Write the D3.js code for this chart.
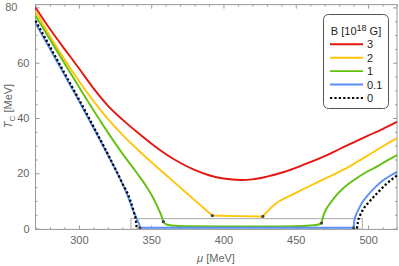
<!DOCTYPE html>
<html>
<head>
<meta charset="utf-8">
<title>Tc vs mu</title>
<script src="https://d3js.org/d3.v7.min.js"></script>
<style>
  body { margin: 0; background: #fff; }
  svg text { font-family: "Liberation Sans", Arial, sans-serif; }
  .tick text { fill: #666; font-size: 11px; }
  .tick line { stroke: #999; }
  .domain { stroke: none; }
</style>
</head>
<body>
<div id="chart"></div>
<script>
// curves, [mu, Tc] in MeV
var b3 = [[270,80],[280,72.2],[290,65],[300,58],[310,50.8],[320,44.5],[330,39.5],[340,35],[350,30.8],[360,27],[370,23.8],[380,21.2],[390,19.3],[400,18.1],[412,17.6],[420,17.8],[430,18.8],[440,20.2],[450,22],[460,24],[470,26.2],[480,28.7],[490,31.2],[500,33.6],[510,36],[520,38.6]];

var b2Left  = [[270,78.6],[280,69.6],[290,61.2],[300,53.4],[310,46.2],[320,39.7],[330,34],[340,28.9],[350,24.1],[360,19.5],[370,14.9],[380,10.3],[392.3,4.7]];
var b2Mid   = [[392.3,4.7],[410,4.5],[427.2,4.4]];
var b2Right = [[427.2,4.4],[430,6],[434,8.1],[438,9.7],[450,12.9],[460,15.5],[470,18],[483,21.3],[492,24],[501.5,27],[510,29.7],[520,32.7]];

var b1Left  = [[270,77],[280,68.4],[290,59.8],[300,51.3],[310,42.9],[320,34.8],[330,27.2],[340,20.2],[346,15.8],[350,12.4],[353,9.4],[355.5,6.6],[357.2,4.5],[358.4,2.5]];
var b1Mid   = [[358.4,2.5],[360,1.6],[364,1.1],[375,0.85],[400,0.75],[430,0.75],[450,0.85],[460,1.1],[465,1.4],[467.8,2.0]];
var b1Right = [[467.8,2.0],[469,4.5],[471,7],[474,9.3],[478,12],[483,14.7],[490,17.5],[498,20.2],[506,22.4],[513,24.6],[520,26.6]];

var b01Left  = [[270,74.3],[280,65],[290,55.6],[300,46.2],[310,36.5],[320,26.6],[330,16.3],[334,11.5],[337,7.2],[339.5,4.2],[341.2,2.2],[342,1],[342.2,0.3]];
var b01Mid   = [[342.2,0.3],[490,0.3]];
var b01Right = [[490,0.3],[490.5,3],[491.5,4.8],[493,6.5],[496,9.5],[500,12.2],[505,15],[510,17.3],[515,19],[520,20.6]];

var b0Left  = [[270,75.2],[280,65.8],[290,56.3],[300,46.8],[310,37],[320,27],[330,16.5],[335,11],[338,6],[339.5,2.5],[340,0]];
var b0Right = [[492.3,0],[493,2.5],[494.5,4.8],[497,7.3],[500,9.2],[507,13.2],[513,16.3],[520,19.2]];

// transition points marked with dots
var dots = [[342.2,0.3],[490,0.3],[358.4,2.5],[467.8,2.0],[392.3,4.7],[427.2,4.4]];

// zoom-in box at the bottom
var boxMu = [336, 496], boxT = [-0.2, 3.6];

var legendLabels = ["3", "2", "1", "0.1", "0"];
var legendColors = ["#e3170f", "#ffc50d", "#62c10f", "#5b8ff7", "#000"];

var xTicks = [300, 350, 400, 450, 500];
var yTicks = [0, 20, 40, 60, 80];
var xMinor = d3.range(270, 521, 10).filter(v => xTicks.indexOf(v) < 0);
var yMinor = d3.range(0, 81, 5).filter(v => yTicks.indexOf(v) < 0);

var W = 399, H = 266;
var svg = d3.select("#chart").append("svg").attr("width", W).attr("height", H);

var x = d3.scaleLinear().domain([270, 520]).range([35.5, 397]);
var y = d3.scaleLinear().domain([0, 80]).range([228.6, 7.4]);

var fx0 = x(270), fx1 = x(520), fy0 = y(81), fy1 = y(-0.3);

// axes, ticks pointing inward
function ax(g, a) { g.call(a); g.selectAll(".domain").remove(); }
svg.append("g").attr("transform", "translate(0," + fy1 + ")")
  .call(g => ax(g, d3.axisBottom(x).tickValues(xTicks).tickSizeInner(-4).tickSizeOuter(0).tickPadding(7)));
svg.append("g").attr("transform", "translate(0," + fy1 + ")")
  .call(g => ax(g, d3.axisBottom(x).tickValues(xMinor).tickFormat("").tickSizeInner(-2).tickSizeOuter(0)));
var yAx = svg.append("g").attr("transform", "translate(" + fx0 + ",0)");
yAx.call(g => ax(g, d3.axisLeft(y).tickValues(yTicks).tickSizeInner(-4).tickSizeOuter(0).tickPadding(6)));
// the top label sits further left in the original
yAx.selectAll(".tick text").filter(d => d == 80).attr("dx", -12);
svg.append("g").attr("transform", "translate(" + fx0 + ",0)")
  .call(g => ax(g, d3.axisLeft(y).tickValues(yMinor).tickFormat("").tickSizeInner(-2).tickSizeOuter(0)));
// top and right, no labels
svg.append("g").attr("transform", "translate(0," + fy0 + ")")
  .call(g => ax(g, d3.axisTop(x).tickValues(xTicks).tickFormat("").tickSizeInner(-4).tickSizeOuter(0)));
svg.append("g").attr("transform", "translate(0," + fy0 + ")")
  .call(g => ax(g, d3.axisTop(x).tickValues(xMinor).tickFormat("").tickSizeInner(-2).tickSizeOuter(0)));
svg.append("g").attr("transform", "translate(" + fx1 + ",0)")
  .call(g => ax(g, d3.axisRight(y).tickValues(yTicks).tickFormat("").tickSizeInner(-4).tickSizeOuter(0)));
svg.append("g").attr("transform", "translate(" + fx1 + ",0)")
  .call(g => ax(g, d3.axisRight(y).tickValues(yMinor).tickFormat("").tickSizeInner(-2).tickSizeOuter(0)));

svg.append("rect")
  .attr("x", fx0).attr("y", fy0).attr("width", fx1 - fx0).attr("height", fy1 - fy0)
  .attr("fill", "none").attr("stroke", "#999").attr("stroke-width", 1);

// gray box
svg.append("rect")
  .attr("x", x(boxMu[0])).attr("y", y(boxT[1]))
  .attr("width", x(boxMu[1]) - x(boxMu[0])).attr("height", y(boxT[0]) - y(boxT[1]))
  .attr("fill", "none").attr("stroke", "#aaa").attr("stroke-width", 1);

var line = d3.line().x(d => x(d[0])).y(d => y(d[1])).curve(d3.curveMonotoneX);

function draw(segs, color, dash) {
  segs.forEach(function(s) {
    var p = svg.append("path").attr("d", line(s))
      .attr("fill", "none").attr("stroke", color).attr("stroke-width", 1.9);
    if (dash) p.attr("stroke-dasharray", "2.2,2.2").attr("stroke-width", 2.2);
  });
}
draw([b3], legendColors[0]);
draw([b2Left, b2Mid, b2Right], legendColors[1]);
draw([b1Left, b1Mid, b1Right], legendColors[2]);
draw([b01Left, b01Mid, b01Right], legendColors[3]);
draw([b0Left, b0Right], legendColors[4], true);

svg.selectAll(".dot").data(dots).enter().append("circle")
  .attr("cx", d => x(d[0])).attr("cy", d => y(d[1])).attr("r", 1.6)
  .attr("fill", "#444");

// axis labels
svg.append("text").attr("x", 216).attr("y", 262).attr("text-anchor", "middle")
  .attr("fill", "#666").attr("font-size", 11)
  .html('<tspan font-style="italic">μ</tspan> [MeV]');
svg.append("text").attr("transform", "translate(12,106) rotate(-90)").attr("text-anchor", "middle")
  .attr("fill", "#666").attr("font-size", 11)
  .html('<tspan font-style="italic">T</tspan><tspan font-size="8" dy="3">C</tspan><tspan dy="-3"> [MeV]</tspan>');

// legend
var lg = svg.append("g");
lg.append("rect").attr("x", 323.5).attr("y", 14.5).attr("width", 65).attr("height", 94)
  .attr("rx", 5).attr("fill", "#fff").attr("stroke", "#555");
lg.append("text").attr("x", 356).attr("y", 35).attr("text-anchor", "middle")
  .attr("font-size", 11).attr("fill", "#222")
  .html('B [10<tspan font-size="9" dy="-4">18</tspan><tspan dy="4"> G]</tspan>');
legendLabels.forEach(function(l, i) {
  var yy = 44.3 + i * 13.4;
  lg.append("line").attr("x1", 330).attr("x2", 363).attr("y1", yy).attr("y2", yy)
    .attr("stroke", legendColors[i]).attr("stroke-width", i == 4 ? 2 : 1.9)
    .attr("stroke-dasharray", i == 4 ? "2.2,2.2" : null);
  lg.append("text").attr("x", 367).attr("y", yy + 4).attr("font-size", 11).attr("fill", "#222").text(l);
});
</script>
</body>
</html>
